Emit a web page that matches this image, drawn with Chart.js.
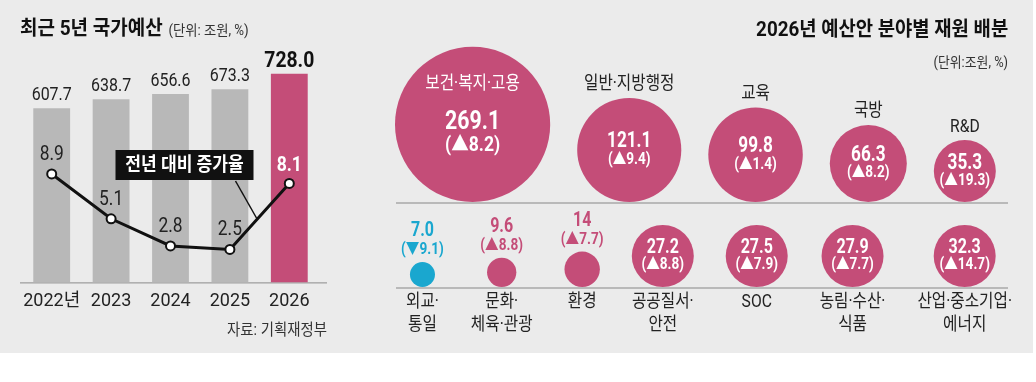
<!DOCTYPE html>
<html><head><meta charset="utf-8">
<script src="https://cdn.jsdelivr.net/npm/chart.js@4.4.1/dist/chart.umd.min.js"></script>
<style>
html,body{margin:0;padding:0;background:#fff;}
body{position:relative;width:1036px;height:382px;overflow:hidden;font-family:Roboto,'Noto Sans CJK KR',sans-serif;color:#111;}
#bg{position:absolute;left:0;top:0;width:1033px;height:353px;background:#ebebeb;}
#left{position:absolute;left:0;top:0;}
#right{position:absolute;left:340px;top:0;}
.t{position:absolute;white-space:nowrap;}
</style></head>
<body>
<div id="bg"></div>
<canvas id="left" width="340" height="353"></canvas>
<canvas id="right" width="693" height="353"></canvas>
<div class="t" style="left:20px;top:16px;line-height:24px;transform:scaleX(0.95);transform-origin:left center;">
  <span style="font-weight:700;font-size:20px;color:#111;">최근 5년 국가예산</span><span style="font-size:14px;color:#333;margin-left:6px;">(단위: 조원, %)</span>
</div>
<div class="t" style="right:28px;top:17px;line-height:24px;font-weight:700;font-size:20px;color:#111;transform:scaleX(0.94);transform-origin:right center;">2026년 예산안 분야별 재원 배분</div>
<div class="t" style="right:28px;top:53px;line-height:18px;font-size:14px;color:#333;transform:scaleX(0.92);transform-origin:right center;">(단위:조원, %)</div>
<div class="t" style="right:709px;top:320px;line-height:20px;font-size:16px;color:#333;transform:scaleX(0.9);transform-origin:right center;">자료: 기획재정부</div>
<script>
// ---------- data ----------
const years = ['2022년', '2023', '2024', '2025', '2026'];
const budget = [607.7, 638.7, 656.6, 673.3, 728.0];
const growth = [8.9, 5.1, 2.8, 2.5, 8.1];

const topSectors = ['보건·복지·고용', '일반·지방행정', '교육', '국방', 'R&D'];
const topValues = [269.1, 121.1, 99.8, 66.3, 35.3];
const topValueText = ['269.1', '121.1', '99.8', '66.3', '35.3'];
const topChange = [8.2, 9.4, 1.4, 8.2, 19.3];

const bottomSectors = ['외교·\n통일', '문화·\n체육·관광', '환경', '공공질서·\n안전', 'SOC', '농림·수산·\n식품', '산업·중소기업·\n에너지'];
const bottomValues = [7.0, 9.6, 14, 27.2, 27.5, 27.9, 32.3];
const bottomValueText = ['7.0', '9.6', '14', '27.2', '27.5', '27.9', '32.3'];
const bottomChange = [-9.1, 8.8, 7.7, 8.8, 7.9, 7.7, 14.7];

// ---------- style ----------
const GRAY = '#b8b8b8', PINK = '#c44d78', TEAL = '#1aa7cf', INK = '#222';
const FONT = "Roboto, 'Noto Sans CJK KR', sans-serif";
const KSX = 0.87;   // horizontal squeeze for Korean labels
const NSX = 0.84;   // horizontal squeeze for figures

function txt(ctx, s, x, y, font, color, sx, align) {
  ctx.save();
  ctx.font = font; ctx.fillStyle = color;
  ctx.textAlign = align || 'center'; ctx.textBaseline = 'middle';
  ctx.translate(x, y); ctx.scale(sx || 1, 1);
  ctx.fillText(s, 0, 0);
  ctx.restore();
}
function chg(v) { return '(' + (v < 0 ? '▼' : '▲') + Math.abs(v).toFixed(1) + ')'; }

// ---------- left chart ----------
const leftDeco = {
  id: 'leftDeco',
  beforeDatasetsDraw(chart) {
    const c = chart.ctx, a = chart.chartArea;
    c.save(); c.strokeStyle = '#8a8a8a'; c.lineWidth = 1;
    c.beginPath(); c.moveTo(a.left - 2, a.bottom + 0.5); c.lineTo(a.right + 8, a.bottom + 0.5); c.stroke();
    c.restore();
  },
  afterDatasetsDraw(chart) {
    const c = chart.ctx;
    const bars = chart.getDatasetMeta(1).data;
    const pts = chart.getDatasetMeta(0).data;
    const last = budget.length - 1;
    bars.forEach((b, i) => {
      if (i === last) txt(c, budget[i].toFixed(1), b.x, b.y - 12, '700 22px ' + FONT, '#111', 0.88);
      else txt(c, budget[i].toFixed(1), b.x, b.y - 13, '400 19px ' + FONT, INK, NSX);
    });
    pts.forEach((p, i) => {
      if (i === last) txt(c, growth[i].toFixed(1), p.x, p.y - 17, '700 20px ' + FONT, '#fff', 0.88);
      else txt(c, growth[i].toFixed(1), p.x, p.y - 19, '400 20px ' + FONT, INK, 0.87);
    });
    // callout label
    const bx = (pts[1].x + pts[3].x) / 2 + 14, by = 165;
    c.save();
    c.fillStyle = '#111';
    c.fillRect(bx - 69, by - 15, 138, 30);
    c.strokeStyle = '#111'; c.lineWidth = 1.5;
    c.beginPath(); c.moveTo(bx + 51, by + 16); c.lineTo(bx + 72, by + 53); c.stroke();
    c.restore();
    txt(c, '전년 대비 증가율', bx, by + 1, '700 19px ' + FONT, '#fff', 0.9);
  }
};

new Chart(document.getElementById('left'), {
  data: {
    labels: years,
    datasets: [
      { type: 'line', data: growth, yAxisID: 'y1', borderColor: '#111', borderWidth: 3,
        pointRadius: 4.5, pointBackgroundColor: '#fff', pointBorderColor: '#111', pointBorderWidth: 2,
        tension: 0, order: 0 },
      { type: 'bar', data: budget, yAxisID: 'y',
        backgroundColor: budget.map((v, i) => i === budget.length - 1 ? PINK : GRAY),
        categoryPercentage: 1, barPercentage: 0.62, order: 1 }
    ]
  },
  options: {
    responsive: false, animation: false, devicePixelRatio: 1,
    layout: { autoPadding: false, padding: { left: 22, right: 21, top: 53, bottom: 33 } },
    plugins: { legend: { display: false }, tooltip: { enabled: false } },
    scales: {
      x: { grid: { display: false, drawTicks: false }, border: { display: false },
           ticks: { font: { family: FONT, size: 18 }, color: INK, padding: 8, maxRotation: 0, minRotation: 0, autoSkip: false } },
      y: { display: false, min: 0, max: 800 },
      y1: { display: false, min: -0.29, max: 19.15 }
    }
  },
  plugins: [leftDeco]
});

// ---------- right chart (bubble layout computed from values) ----------
const RW = 693, RH = 353, OX = 340;
function rad(v) { const r = 4.73 * Math.sqrt(v); return v >= 20 ? Math.max(r, 31) : r; }
const colorOf = (c) => c < 0 ? TEAL : PINK;

// top row: circles packed left to right, bottoms aligned
const TOP_BASE = 202, TOP_LEFT = 395 - OX, TOP_GAP = 27;
const topPts = [];
{ let edge = TOP_LEFT;
  topValues.forEach((v) => { const r = rad(v); topPts.push({ x: edge + r, y: TOP_BASE - r, r }); edge += 2 * r + TOP_GAP; }); }

// bottom row: slots sized by label width, justified across the row
const BOT_BASE = 287, BOT_L = 406 - OX, BOT_R = 1012 - OX;
const LABEL_FONT = '400 18px ' + FONT;
const mctx = document.createElement('canvas').getContext('2d');
mctx.font = LABEL_FONT;
const slotW = bottomSectors.map((s, i) => Math.max(
  Math.max(...s.split('\n').map(l => mctx.measureText(l).width * KSX)), 2 * rad(bottomValues[i])));
const gapB = (BOT_R - BOT_L - slotW.reduce((a, b) => a + b, 0)) / (slotW.length - 1);
const botPts = [];
{ let edge = BOT_L;
  bottomValues.forEach((v, i) => { const r = rad(v); botPts.push({ x: edge + slotW[i] / 2, y: BOT_BASE - r, r }); edge += slotW[i] + gapB; }); }

const rightDeco = {
  id: 'rightDeco',
  beforeDatasetsDraw(chart) {
    const c = chart.ctx, xs = chart.scales.x, ys = chart.scales.y;
    c.save(); c.strokeStyle = '#a9a9a9'; c.lineWidth = 1.5;
    [TOP_BASE + 1, BOT_BASE + 1].forEach(yv => {
      const y = ys.getPixelForValue(yv);
      c.beginPath(); c.moveTo(xs.getPixelForValue(396 - OX), y); c.lineTo(xs.getPixelForValue(1008 - OX), y); c.stroke();
    });
    c.restore();
  },
  afterDatasetsDraw(chart) {
    const c = chart.ctx;
    chart.getDatasetMeta(0).data.forEach((el, i) => {
      const x = el.x, y = el.y, r = el.options.radius;
      if (r > 60) {
        txt(c, topSectors[i], x, y - 40, '400 18px ' + FONT, '#fff', KSX);
        txt(c, topValueText[i], x, y - 2, '700 26px ' + FONT, '#fff', 0.82);
        txt(c, chg(topChange[i]), x, y + 22, '700 20px ' + FONT, '#fff', 0.88);
      } else {
        txt(c, topSectors[i], x, y - r - 13, '400 18px ' + FONT, INK, KSX);
        txt(c, topValueText[i], x, y - 8, '700 22px ' + FONT, '#fff', 0.78);
        txt(c, chg(topChange[i]), x, y + 10, '700 16px ' + FONT, '#fff', 0.85);
      }
    });
    chart.getDatasetMeta(1).data.forEach((el, i) => {
      const x = el.x, y = el.y, r = el.options.radius;
      const inside = bottomValues[i] >= 20;
      if (inside) {
        txt(c, bottomValueText[i], x, y - 8, '700 20px ' + FONT, '#fff', 0.8);
        txt(c, chg(bottomChange[i]), x, y + 9, '700 16px ' + FONT, '#fff', 0.85);
      } else {
        const col = colorOf(bottomChange[i]);
        txt(c, bottomValueText[i], x, y - r - 31, '700 20px ' + FONT, col, 0.8);
        txt(c, chg(bottomChange[i]), x, y - r - 12, '700 16px ' + FONT, col, 0.85);
      }
      bottomSectors[i].split('\n').forEach((line, k) => {
        txt(c, line, x, BOT_BASE + 15 + k * 23, LABEL_FONT, INK, KSX);
      });
    });
  }
};

new Chart(document.getElementById('right'), {
  type: 'bubble',
  data: {
    datasets: [
      { data: topPts, backgroundColor: topChange.map(colorOf), borderWidth: 0, clip: false },
      { data: botPts, backgroundColor: bottomChange.map(colorOf), borderWidth: 0, clip: false }
    ]
  },
  options: {
    responsive: false, animation: false, devicePixelRatio: 1,
    layout: { autoPadding: false, padding: 0 },
    plugins: { legend: { display: false }, tooltip: { enabled: false } },
    scales: {
      x: { type: 'linear', display: false, min: 0, max: RW },
      y: { type: 'linear', display: false, min: 0, max: RH, reverse: true }
    }
  },
  plugins: [rightDeco]
});
</script>
</body></html>
